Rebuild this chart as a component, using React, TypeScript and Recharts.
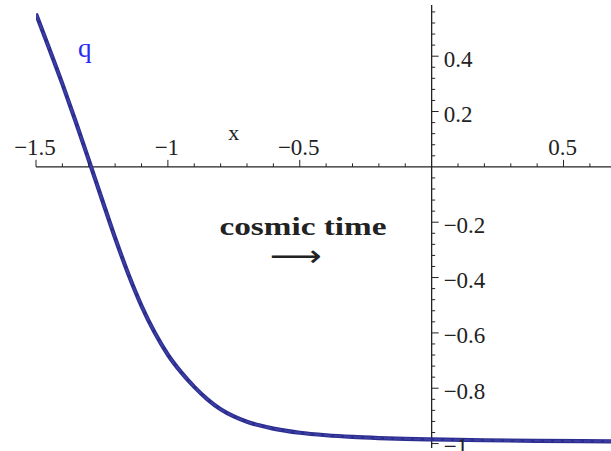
import { LineChart, Line, XAxis, YAxis, ReferenceLine, ReferenceDot } from 'recharts';

// q(x)
const xValues = [-1.5, -1.45, -1.4, -1.35, -1.3, -1.25, -1.2, -1.15, -1.1, -1.05, -1.0, -0.95, -0.9, -0.85, -0.8, -0.75, -0.7, -0.65, -0.6, -0.5, -0.4, -0.3, -0.2, -0.1, 0, 0.2, 0.4, 0.68];
const qValues = [0.553, 0.428, 0.3, 0.165, 0.025, -0.117, -0.257, -0.387, -0.502, -0.599, -0.679, -0.742, -0.795, -0.84, -0.876, -0.902, -0.921, -0.935, -0.946, -0.961, -0.97, -0.976, -0.98, -0.983, -0.985, -0.988, -0.99, -0.992];

const xMajorTicks = [-1.5, -1, -0.5, 0.5];
const xMajorLabels = ['\u22121.5', '\u22121', '\u22120.5', '0.5'];
const xMinorTicks = [-1.4, -1.3, -1.2, -1.1, -0.9, -0.8, -0.7, -0.6, -0.4, -0.3, -0.2, -0.1, 0.1, 0.2, 0.3, 0.4, 0.6];

const yMajorTicks = [-1, -0.8, -0.6, -0.4, -0.2, 0.2, 0.4];
const yMajorLabels = ['\u22121', '\u22120.8', '\u22120.6', '\u22120.4', '\u22120.2', '0.2', '0.4'];
// minor ticks every 0.04 between the majors
const yMinorTicks: number[] = [];
for (let i = -25; i <= 14; i++) {
  if (i % 5 !== 0) yMinorTicks.push(+(i * 0.04).toFixed(2));
}

const data = xValues.map((x, i) => ({ x, q: qValues[i] }));

const AXIS = '#222';
const SERIF = '"Liberation Serif", "Times New Roman", serif';

const xTick = (len: number) => (p: any) => (
  <line x1={p.cx} y1={p.cy} x2={p.cx} y2={p.cy - len} stroke={AXIS} strokeWidth={1} />
);
const yTick = (len: number) => (p: any) => (
  <line x1={p.cx} y1={p.cy} x2={p.cx + len} y2={p.cy} stroke={AXIS} strokeWidth={1} />
);

const textMark = (text: string, opts: any) => (p: any) => (
  <text
    x={p.cx + (opts.dx || 0)}
    y={p.cy + (opts.dy || 0)}
    textAnchor={opts.anchor || 'middle'}
    fontFamily={opts.font || SERIF}
    fontSize={opts.size || 23}
    fontWeight={opts.weight || 'normal'}
    fill={opts.color || AXIS}
    textLength={opts.length}
    lengthAdjust={opts.length ? 'spacingAndGlyphs' : undefined}
  >
    {text}
  </text>
);

export default function App() {
  return (
    <div style={{ position: 'absolute', left: 0, top: 0, background: '#fff' }}>
      <LineChart width={611} height={451} data={data} margin={{ top: 5, right: 0, bottom: 3, left: 36 }}>
        <XAxis type="number" dataKey="x" domain={[-1.5, 0.68]} allowDataOverflow hide />
        <YAxis type="number" domain={[-1.016, 0.585]} allowDataOverflow hide />

        <ReferenceLine y={0} stroke={AXIS} strokeWidth={1.3} />
        <ReferenceLine x={0} stroke={AXIS} strokeWidth={1.3} />

        {xMajorTicks.map((v, i) => (
          <ReferenceDot key={`xm${i}`} x={v} y={0} r={0} shape={xTick(7)} />
        ))}
        {xMinorTicks.map((v, i) => (
          <ReferenceDot key={`xn${i}`} x={v} y={0} r={0} shape={xTick(3.5)} />
        ))}
        {yMajorTicks.map((v, i) => (
          <ReferenceDot key={`ym${i}`} x={0} y={v} r={0} shape={yTick(7)} />
        ))}
        {yMinorTicks.map((v, i) => (
          <ReferenceDot key={`yn${i}`} x={0} y={v} r={0} shape={yTick(3.5)} />
        ))}

        {xMajorTicks.map((v, i) => (
          <ReferenceDot key={`xl${i}`} x={v} y={0} r={0} shape={textMark(xMajorLabels[i], { dx: -1, dy: -12 })} />
        ))}
        {yMajorTicks.map((v, i) => (
          <ReferenceDot key={`yl${i}`} x={0} y={v} r={0} shape={textMark(yMajorLabels[i], { dx: 12, dy: 10.5, anchor: 'start' })} />
        ))}

        <ReferenceDot x={-0.75} y={0.098} r={0} shape={textMark('x', { size: 22 })} />
        <ReferenceDot x={-1.315} y={0.397} r={0} shape={textMark('q', { size: 27, color: '#2a2af0' })} />
        <ReferenceDot x={-0.488} y={-0.246} r={0} shape={textMark('cosmic time', { size: 26, weight: 'bold', length: 167 })} />
        <ReferenceDot x={-0.516} y={-0.36} r={0} shape={textMark('\u27F6', { size: 30, font: '"DejaVu Sans", sans-serif', length: 52 })} />

        <Line type="monotone" dataKey="q" stroke="#2c2e8e" strokeWidth={4.2} dot={false} isAnimationActive={false} />
        <Line type="monotone" dataKey="q" stroke="#3c3ea6" strokeWidth={2} strokeDasharray="7 3" dot={false} isAnimationActive={false} />
      </LineChart>
    </div>
  );
}
